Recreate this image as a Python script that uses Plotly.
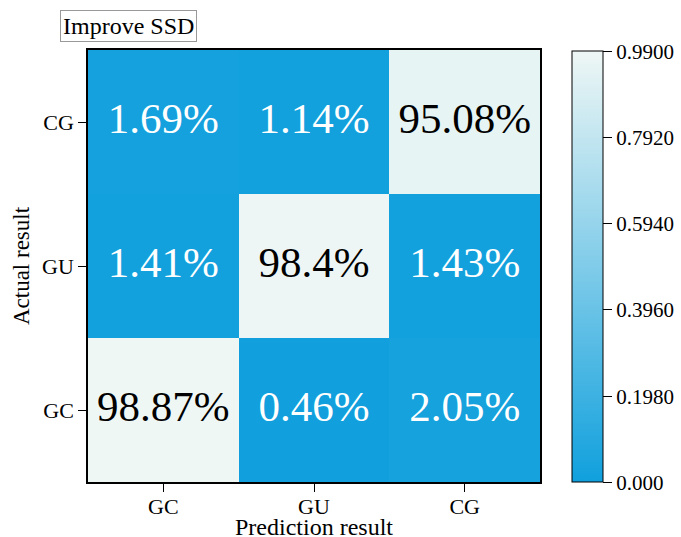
import plotly.graph_objects as go

# Confusion matrix of the improved SSD model (percent)
pred_labels = ["GC", "GU", "CG"]
actual_labels = ["GC", "GU", "CG"]
pct = [
    [98.87, 0.46, 2.05],   # actual GC
    [1.41, 98.4, 1.43],    # actual GU
    [1.69, 1.14, 95.08],   # actual CG
]
cbar_ticks = [0.0, 0.198, 0.396, 0.594, 0.792, 0.99]
cbar_ticktext = ["0.000", "0.1980", "0.3960", "0.5940", "0.7920", "0.9900"]

z = [[p / 100 for p in row] for row in pct]
FONT = "Liberation Serif"
LOW, HIGH = "#10a0dd", "#eff7f5"

fig = go.Figure(go.Heatmap(
    x=pred_labels, y=actual_labels, z=z,
    zmin=0, zmax=0.99,
    colorscale=[[0, LOW], [1, HIGH]],
    xgap=0, ygap=0,
    hoverinfo="skip",
    colorbar=dict(
        x=1.071, xanchor="left", y=0.498, yanchor="middle",
        thickness=31, thicknessmode="pixels",
        len=431, lenmode="pixels",
        xpad=0, ypad=0,
        outlinewidth=1, outlinecolor="black",
        tickvals=cbar_ticks, ticktext=cbar_ticktext,
        ticks="outside", ticklen=9, tickwidth=1, tickcolor="black",
        tickfont=dict(family=FONT, size=21, color="black"),
    ),
))

# cell value labels, white on blue cells and black on light ones
cell_x, cell_y, cell_text, cell_color = [], [], [], []
for i, a in enumerate(actual_labels):
    for j, p in enumerate(pred_labels):
        cell_x.append(p)
        cell_y.append(a)
        cell_text.append(f"{pct[i][j]:g}%")
        cell_color.append("black" if z[i][j] > 0.5 else "white")

fig.add_trace(go.Scatter(
    x=cell_x, y=cell_y, text=cell_text, mode="text",
    textposition="middle center",
    textfont=dict(family=FONT, size=43, color=cell_color),
    hoverinfo="skip", showlegend=False,
))

fig.add_annotation(
    xref="paper", yref="paper", x=-0.062, y=1.0926, xanchor="left", yanchor="top",
    text="Improve SSD", showarrow=False,
    font=dict(family=FONT, size=24, color="black"),
    bordercolor="#999999", borderwidth=1, borderpad=2, bgcolor="white",
)
fig.add_annotation(
    xref="paper", yref="paper", x=0.5, y=-0.104, xanchor="center", yanchor="middle",
    text="Prediction result", showarrow=False,
    font=dict(family=FONT, size=24, color="black"),
)

axis_common = dict(
    showline=True, linecolor="black", linewidth=1.5, mirror=True,
    ticks="outside", ticklen=8, tickwidth=1.2, tickcolor="black",
    tickfont=dict(family=FONT, size=22, color="black"),
    showgrid=False, zeroline=False, fixedrange=True, automargin=False,
)
fig.update_xaxes(**axis_common, ticklabelstandoff=-4)
fig.update_yaxes(
    **axis_common,
    title=dict(text="Actual result", font=dict(family=FONT, size=23, color="black"), standoff=6),
)

fig.update_layout(
    width=681, height=537,
    margin=dict(l=88, r=141, t=50, b=55, autoexpand=False),
    paper_bgcolor="white", plot_bgcolor="white",
    font=dict(family=FONT, color="black"),
    showlegend=False,
)

fig.write_html("out.html")
